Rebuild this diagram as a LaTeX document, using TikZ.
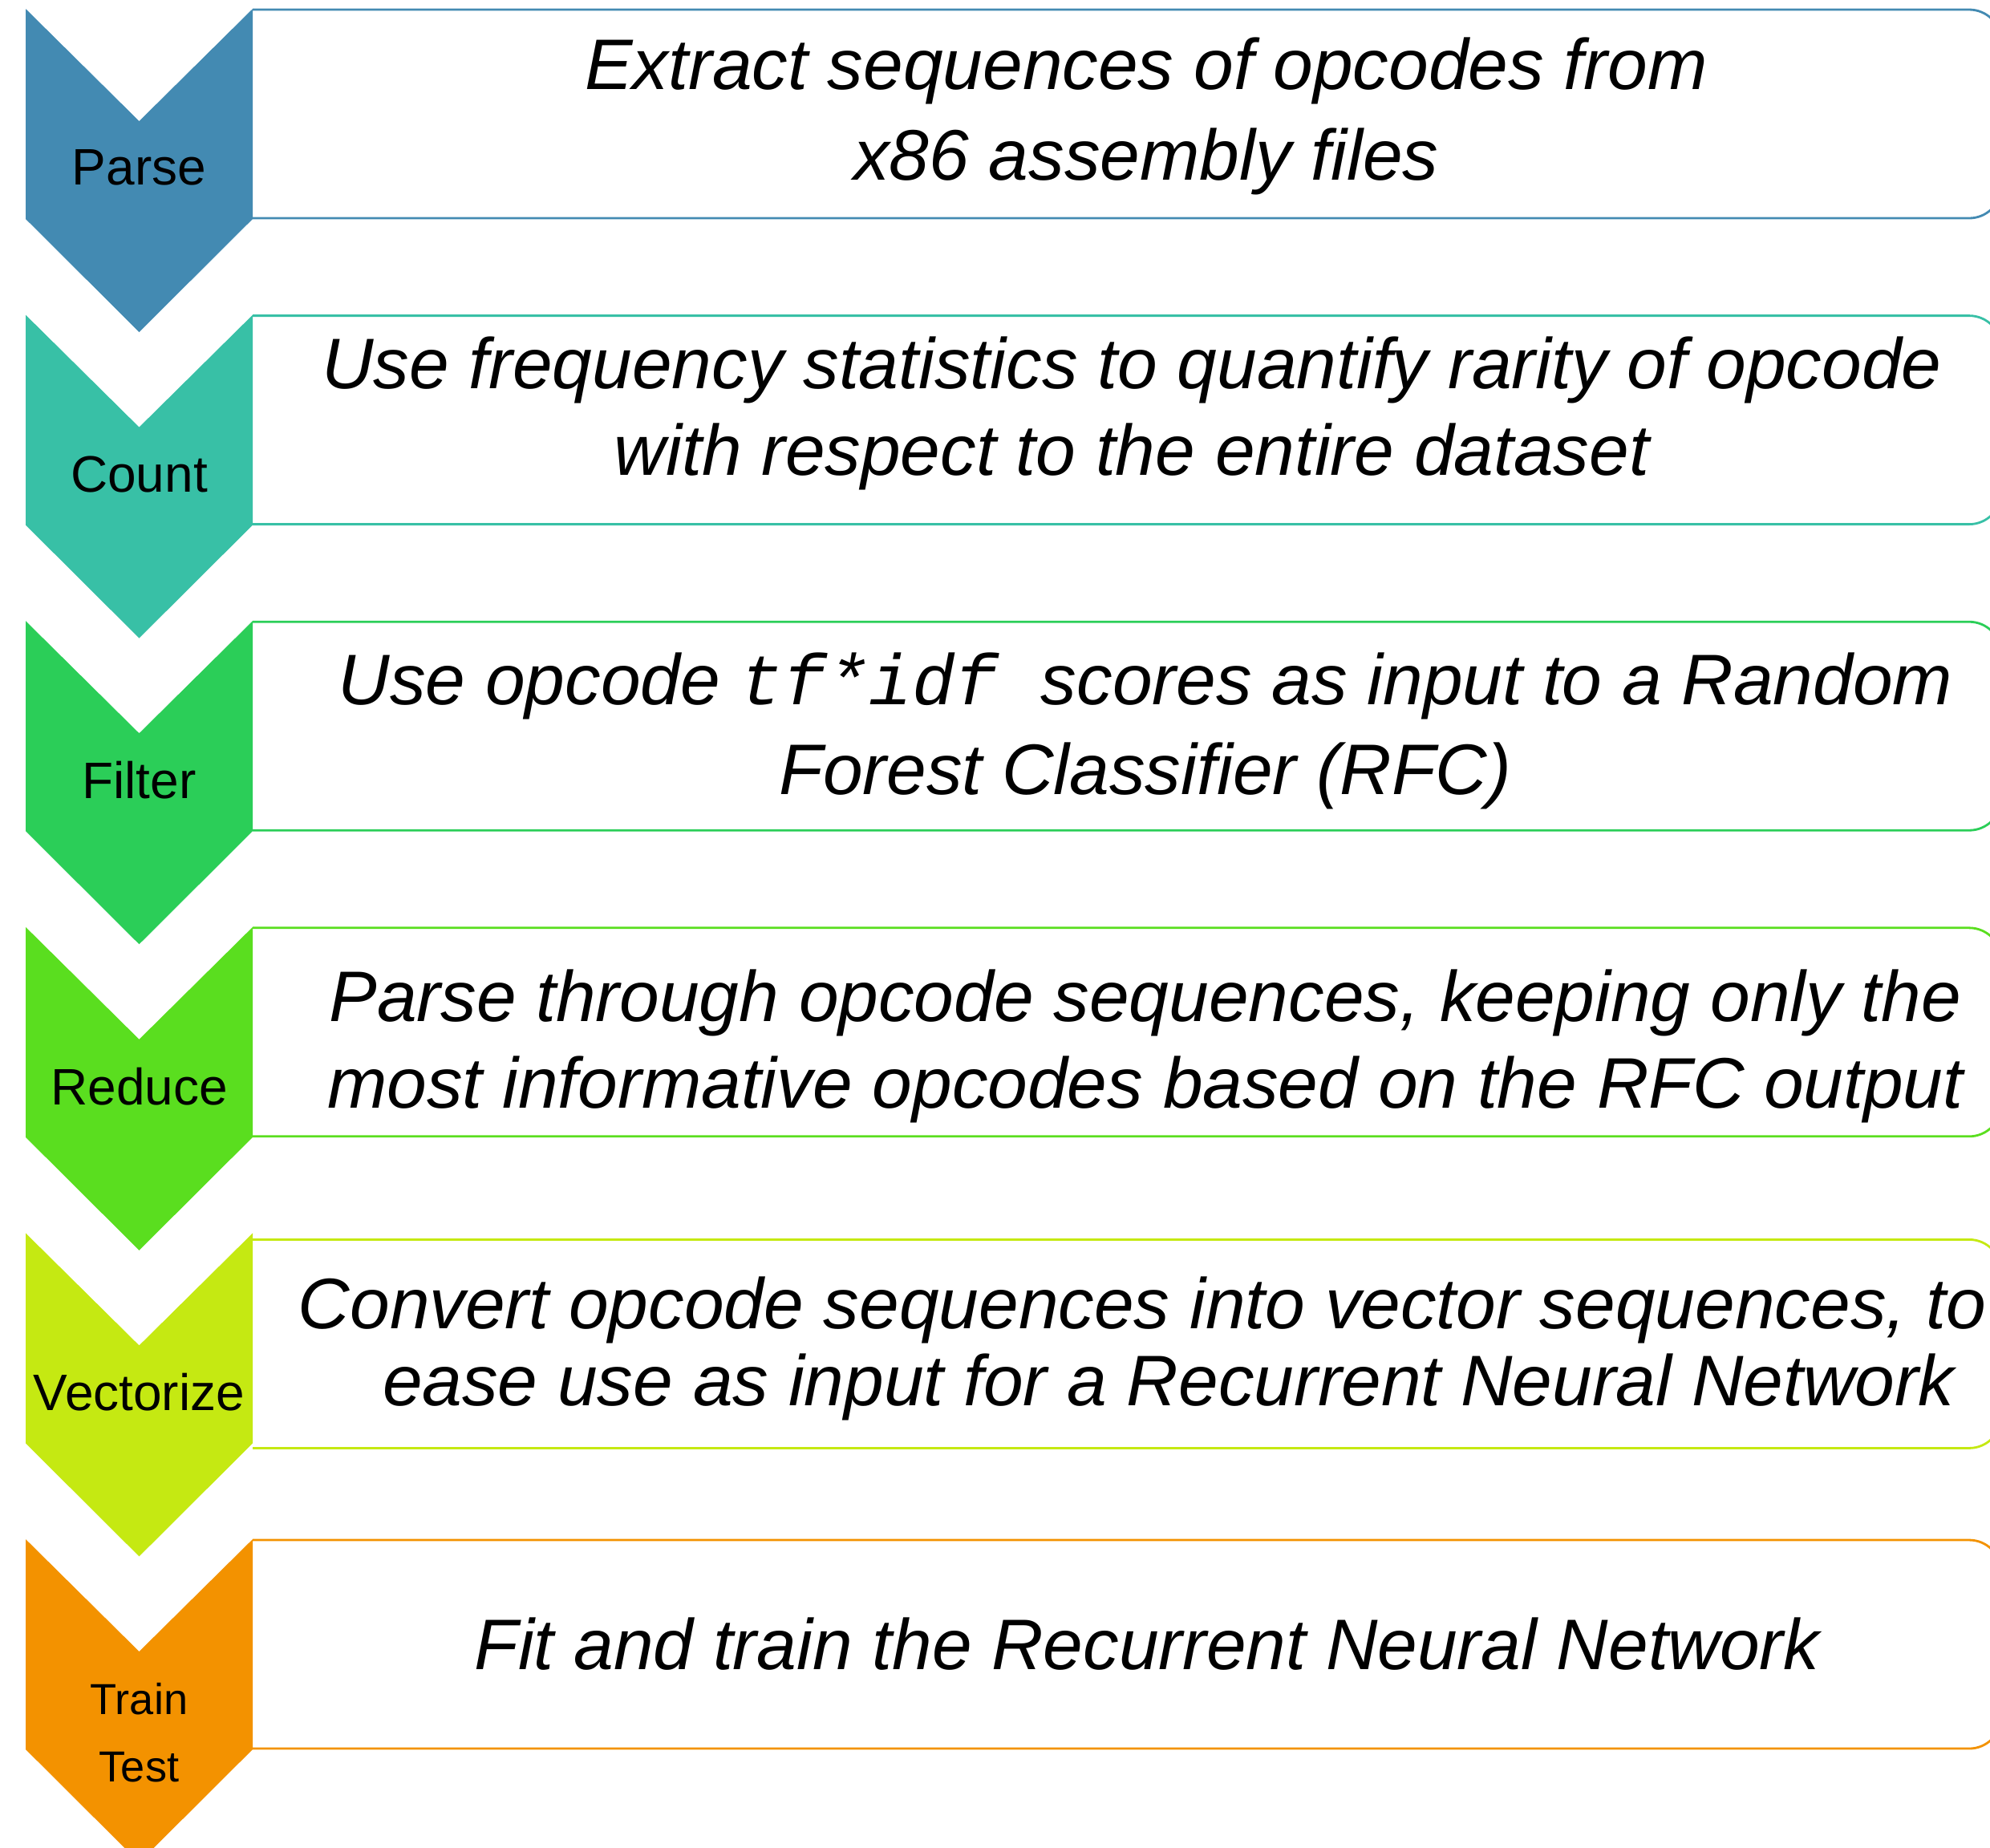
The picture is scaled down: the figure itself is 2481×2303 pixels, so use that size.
\documentclass[tikz,border=0pt]{standalone}
\usepackage{fontspec}
\setmainfont{Liberation Sans}
\setmonofont{Liberation Mono}

\definecolor{parseblue}{RGB}{67,138,178}
\definecolor{countteal}{RGB}{56,192,166}
\definecolor{filtergreen}{RGB}{43,206,88}
\definecolor{reducegreen}{RGB}{90,222,31}
\definecolor{vectorlime}{RGB}{197,233,18}
\definecolor{trainorange}{RGB}{243,146,0}

\begin{document}
\begin{tikzpicture}[x=0.1mm,y=-0.1mm,
        stepbox/.style={draw=#1,line width=0.8pt,rounded corners=4mm},
        steplabel/.style={font=\fontsize{18.2}{23.9}\selectfont,align=center,inner sep=0pt},
        steptext/.style={font=\fontsize{25.4}{#1}\selectfont\itshape,align=center,inner sep=0pt},
        steptext/.default=30.7]

    \useasboundingbox (0,0) rectangle (2481,2303);
    \clip (0,0) rectangle (2481,2303);

    % frame first, chevron on top of its left edge
    \foreach \col/\off [count=\i from 0] in {parseblue/0,countteal/0,filtergreen/0,reducegreen/0,vectorlime/7,trainorange/0}{
        \pgfmathsetmacro\t{11+381.6*\i}
        \draw[stepbox=\col] (315,\t+\off+1) -- (2495,\t+\off+1) -- (2495,\t+\off+261) -- (315,\t+\off+261);
        \fill[\col] (32,\t) -- (173.5,\t+140) -- (315,\t) -- (315,\t+262) -- (173.5,\t+403) -- (32,\t+262) -- cycle;
    }

    % step names
    \node[steplabel] (parse)     at (173.5,209)  {Parse};
    \node[steplabel] (count)     at (173.5,591)  {Count};
    \node[steplabel] (filter)    at (173.5,973)  {Filter};
    \node[steplabel] (reduce)    at (173.5,1355) {Reduce};
    \node[steplabel] (vectorize) at (173.5,1736) {Vectorize};
    \node[steplabel,font=\fontsize{15.4}{23.9}\selectfont] (train) at (173.5,2160) {Train\\Test};

    % descriptions
    \node[steptext=32] (parse-txt) at (1429,145)
        {Extract sequences of opcodes from\\x86 assembly files};
    \node[steptext] (count-txt) at (1411,515)
        {Use frequency statistics to quantify rarity of opcode\\with respect to the entire dataset};
    \node[steptext=31.9] (filter-txt) at (1428,911)
        {Use opcode \texttt{tf*idf }scores as input to a Random\\Forest Classifier (RFC)};
    \node[steptext] (reduce-txt) at (1428,1304)
        {Parse through opcode sequences, keeping only the\\most informative opcodes based on the RFC output};
    \node[steptext=27.3] (vectorize-txt) at (1424,1681)
        {Convert opcode sequences into vector sequences, to\\\hspace*{6.6mm}ease use as input for a Recurrent Neural Network};
    \node[steptext] (train-txt) at (1430,2050)
        {Fit and train the Recurrent Neural Network};
\end{tikzpicture}
\end{document}
